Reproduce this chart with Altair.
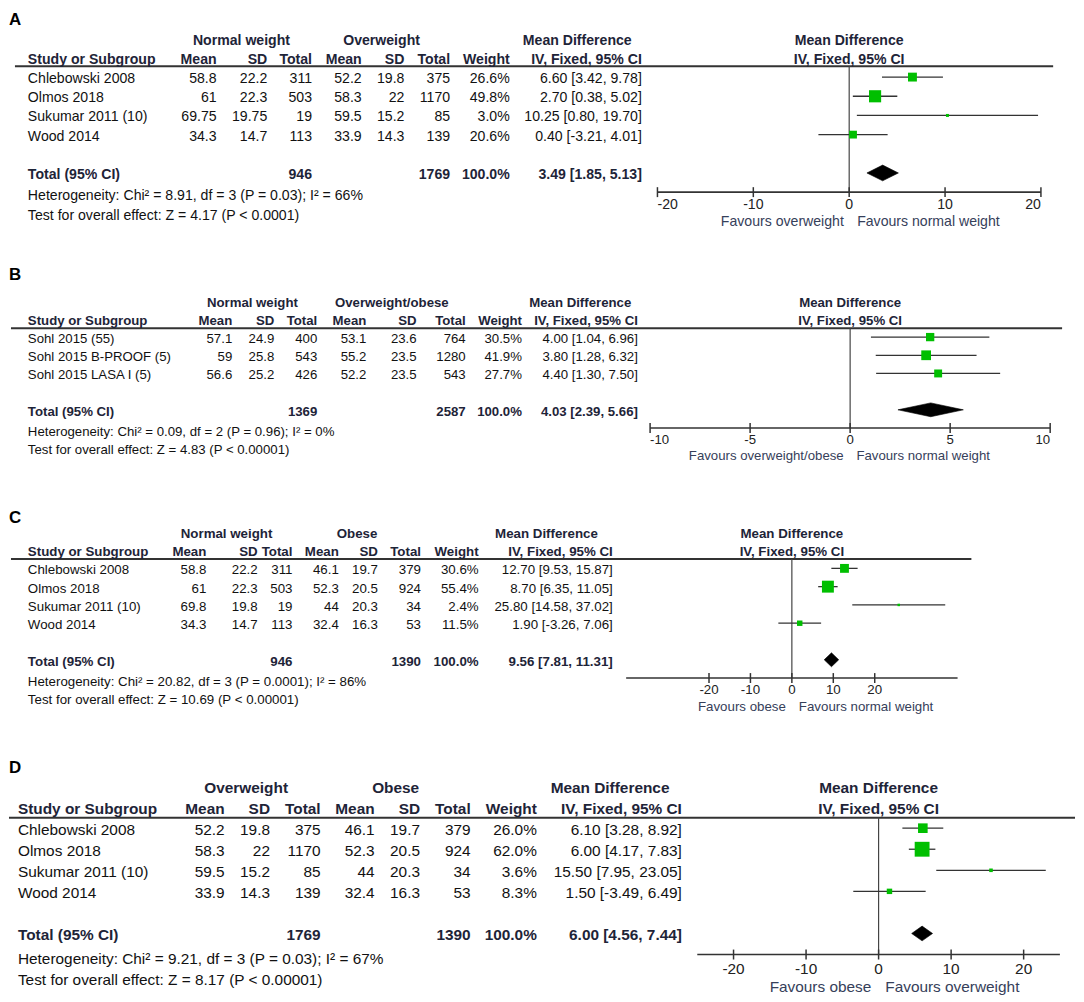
import altair as alt
import pandas as pd

FONT = "Liberation Sans"
OX = 8  # page margin (image x of chart origin)

# ---------------- data ----------------
A_study = ["Chlebowski 2008", "Olmos 2018", "Sukumar 2011 (10)", "Wood 2014"]
A_m1 = [58.8, 61, 69.75, 34.3]
A_sd1 = [22.2, 22.3, 19.75, 14.7]
A_n1 = [311, 503, 19, 113]
A_m2 = [52.2, 58.3, 59.5, 33.9]
A_sd2 = [19.8, 22, 15.2, 14.3]
A_n2 = [375, 1170, 85, 139]
A_wt = [26.6, 49.8, 3.0, 20.6]
A_md = [6.60, 2.70, 10.25, 0.40]
A_lo = [3.42, 0.38, 0.80, -3.21]
A_hi = [9.78, 5.02, 19.70, 4.01]
A_total = [946, 1769, 3.49, 1.85, 5.13]
A_het = "Heterogeneity: Chi² = 8.91, df = 3 (P = 0.03); I² = 66%"
A_test = "Test for overall effect: Z = 4.17 (P < 0.0001)"
A_groups = ["Normal weight", "Overweight"]
A_favours = ["Favours overweight", "Favours normal weight"]
A_ticks = [-20, -10, 0, 10, 20]
A_domain = [-20, 20]

B_study = ["Sohl 2015 (55)", "Sohl 2015 B-PROOF (5)", "Sohl 2015 LASA I (5)"]
B_m1 = [57.1, 59, 56.6]
B_sd1 = [24.9, 25.8, 25.2]
B_n1 = [400, 543, 426]
B_m2 = [53.1, 55.2, 52.2]
B_sd2 = [23.6, 23.5, 23.5]
B_n2 = [764, 1280, 543]
B_wt = [30.5, 41.9, 27.7]
B_md = [4.00, 3.80, 4.40]
B_lo = [1.04, 1.28, 1.30]
B_hi = [6.96, 6.32, 7.50]
B_total = [1369, 2587, 4.03, 2.39, 5.66]
B_het = "Heterogeneity: Chi² = 0.09, df = 2 (P = 0.96); I² = 0%"
B_test = "Test for overall effect: Z = 4.83 (P < 0.00001)"
B_groups = ["Normal weight", "Overweight/obese"]
B_favours = ["Favours overweight/obese", "Favours normal weight"]
B_ticks = [-10, -5, 0, 5, 10]
B_domain = [-10, 10]

C_study = ["Chlebowski 2008", "Olmos 2018", "Sukumar 2011 (10)", "Wood 2014"]
C_m1 = [58.8, 61, 69.8, 34.3]
C_sd1 = [22.2, 22.3, 19.8, 14.7]
C_n1 = [311, 503, 19, 113]
C_m2 = [46.1, 52.3, 44, 32.4]
C_sd2 = [19.7, 20.5, 20.3, 16.3]
C_n2 = [379, 924, 34, 53]
C_wt = [30.6, 55.4, 2.4, 11.5]
C_md = [12.70, 8.70, 25.80, 1.90]
C_lo = [9.53, 6.35, 14.58, -3.26]
C_hi = [15.87, 11.05, 37.02, 7.06]
C_total = [946, 1390, 9.56, 7.81, 11.31]
C_het = "Heterogeneity: Chi² = 20.82, df = 3 (P = 0.0001); I² = 86%"
C_test = "Test for overall effect: Z = 10.69 (P < 0.00001)"
C_groups = ["Normal weight", "Obese"]
C_favours = ["Favours obese", "Favours normal weight"]
C_ticks = [-20, -10, 0, 10, 20]
C_domain = [-40, 40]

D_study = ["Chlebowski 2008", "Olmos 2018", "Sukumar 2011 (10)", "Wood 2014"]
D_m1 = [52.2, 58.3, 59.5, 33.9]
D_sd1 = [19.8, 22, 15.2, 14.3]
D_n1 = [375, 1170, 85, 139]
D_m2 = [46.1, 52.3, 44, 32.4]
D_sd2 = [19.7, 20.5, 20.3, 16.3]
D_n2 = [379, 924, 34, 53]
D_wt = [26.0, 62.0, 3.6, 8.3]
D_md = [6.10, 6.00, 15.50, 1.50]
D_lo = [3.28, 4.17, 7.95, -3.49]
D_hi = [8.92, 7.83, 23.05, 6.49]
D_total = [1769, 1390, 6.00, 4.56, 7.44]
D_het = "Heterogeneity: Chi² = 9.21, df = 3 (P = 0.03); I² = 67%"
D_test = "Test for overall effect: Z = 8.17 (P < 0.00001)"
D_groups = ["Overweight", "Obese"]
D_favours = ["Favours obese", "Favours overweight"]
D_ticks = [-20, -10, 0, 10, 20]
D_domain = [-25, 25]

COL_HEADERS = ["Mean", "SD", "Total", "Mean", "SD", "Total", "Weight", "IV, Fixed, 95% CI"]
PANEL_NAMES = ["A", "B", "C", "D"]

# ---------------- layout (image pixel coords) ----------------
LAYOUT = {
    "A": dict(top=8, H=232, y0=73.3, step=19.3, fs=14.2, lab=-3.07, name_x=27,
              cols=[217, 268, 313, 363, 406, 452, 512, 645], g=[242, 383], mdc=580,
              hline=-0.57, hx=[14, 1059], xr=[660.7, 1046.7], fav=[-5.4, 8], k=3.0, dia=0.41),
    "B": dict(top=240, H=225, y0=335, step=18.3, fs=13.3, lab=-3.5, name_x=27,
              cols=[232.7, 275, 318.3, 367.7, 418.3, 467.7, 524.3, 641], g=[253, 393.3], mdc=583,
              hline=-0.49, hx=[10, 1068], xr=[653.3, 1056], fav=[-6.5, 6.3], k=2.3, dia=0.38),
    "C": dict(top=465, H=280, y0=567.8, step=18.4, fs=13.4, lab=-2.87, name_x=27,
              cols=[206.7, 258.3, 293.3, 340, 379.3, 422.7, 480.7, 615.7], g=[227, 358.3], mdc=549,
              hline=-0.51, hx=[10, 976.7], xr=[629.2, 962.8], fav=[-6, 7], k=2.6, dia=0.38),
    "D": dict(top=745, H=246, y0=829.3, step=21.2, fs=15.5, lab=-2.94, name_x=17,
              cols=[225, 270.7, 321.7, 376, 421.7, 472.7, 539.3, 685.3], g=[246.7, 397.2], mdc=613,
              hline=-0.5, hx=[8, 1081], xr=[700.8, 1065.8], fav=[-7.3, 6.7], k=3.6, dia=0.35),
}

BODY = "#111111"
BOLD = "#1e2438"
FAV = "#36405a"
LINE = "#333333"
GREEN = "#00bf00"
WIDTH = 1068


def g(v):
    return f"{v:g}"


def ci(md, lo, hi):
    return f"{md:.2f} [{lo:.2f}, {hi:.2f}]"


def panel(name):
    G = globals()
    d = {k: G[f"{name}_{k}"] for k in ["study", "m1", "sd1", "n1", "m2", "sd2", "n2", "wt",
                                          "md", "lo", "hi", "total", "het", "test", "groups",
                                          "favours", "ticks", "domain"]}
    L = LAYOUT[name]
    n = len(d["study"])
    fs = L["fs"]
    step = L["step"]
    y0 = L["y0"] - L["top"]
    ys = alt.Scale(domain=[0, 1], range=[y0, y0 + step], zero=False, nice=False)
    xs = alt.Scale(domain=d["domain"], range=[L["xr"][0] - OX, L["xr"][1] - OX],
                   zero=False, nice=False)
    dy = 2

    rows = pd.DataFrame({
        "idx": list(range(n)),
        "study": d["study"],
        "c0": [g(v) for v in d["m1"]],
        "c1": [g(v) for v in d["sd1"]],
        "c2": [str(v) for v in d["n1"]],
        "c3": [g(v) for v in d["m2"]],
        "c4": [g(v) for v in d["sd2"]],
        "c5": [str(v) for v in d["n2"]],
        "c6": [f"{w:.1f}%" for w in d["wt"]],
        "c7": [ci(a, b, c) for a, b, c in zip(d["md"], d["lo"], d["hi"])],
        "md": d["md"], "lo": d["lo"], "hi": d["hi"], "wt": d["wt"],
    })
    tn1, tn2, tmd, tlo, thi = d["total"]
    tot_texts = ["", "", str(tn1), "", "", str(tn2), "100.0%", ci(tmd, tlo, thi)]

    def Y(field="idx"):
        return alt.Y(f"{field}:Q", scale=ys, axis=None)

    def X(field):
        return alt.X(f"{field}:Q", scale=xs, axis=None)

    def text_layer(df, x, align, bold, color, size=None, field="t"):
        return alt.Chart(df).mark_text(
            align=align, baseline="middle", font=FONT, fontSize=size or fs,
            fontWeight="bold" if bold else "normal", color=color, dy=dy,
        ).encode(x=alt.value(x - OX), y=Y(), text=alt.Text(f"{field}:N"))

    one = pd.DataFrame({"k": [0]})
    layers = []

    # header rule
    layers.append(alt.Chart(one).mark_rule(color=LINE, strokeWidth=2).encode(
        x=alt.value(max(L["hx"][0] - OX, 0)), x2=alt.value(L["hx"][1] - OX),
        y=alt.YDatum(L["hline"], scale=ys, axis=None)))
    # zero line
    layers.append(alt.Chart(one).mark_rule(color="#444444", strokeWidth=1.2).encode(
        x=alt.XDatum(0, scale=xs, axis=None),
        y=alt.YDatum(L["hline"], scale=ys, axis=None), y2=alt.Y2Datum(n + 2)))
    # axis line
    layers.append(alt.Chart(one).mark_rule(color=LINE, strokeWidth=1.6).encode(
        x=alt.XDatum(d["domain"][0], scale=xs, axis=None), x2=alt.X2Datum(d["domain"][1]),
        y=alt.YDatum(n + 2, scale=ys, axis=None)))
    # axis ticks (crossing the axis line)
    tk = pd.DataFrame({"v": d["ticks"]})
    half = 5.0 / step
    layers.append(alt.Chart(tk).mark_rule(color=LINE, strokeWidth=1.5).encode(
        x=X("v"), y=alt.YDatum(n + 2 - half, scale=ys, axis=None),
        y2=alt.Y2Datum(n + 2 + half)))
    # axis labels (flush at the ends of the scale)
    lo_d, hi_d = d["domain"]
    for sel, al in [(lambda v: v == lo_d, "left"), (lambda v: lo_d < v < hi_d, "center"),
                    (lambda v: v == hi_d, "right")]:
        vals = [v for v in d["ticks"] if sel(v)]
        if not vals:
            continue
        df = pd.DataFrame({"v": vals, "t": [str(v) for v in vals]})
        layers.append(alt.Chart(df).mark_text(
            align=al, baseline="middle", font=FONT, fontSize=fs, color="#222222",
            dy=0.67 * step).encode(x=X("v"), y=alt.YDatum(n + 2, scale=ys, axis=None),
                                   text="t:N"))

    # CI whiskers
    layers.append(alt.Chart(rows).mark_rule(color=LINE, strokeWidth=1.3).encode(
        x=X("lo"), x2="hi:Q", y=Y()))
    # squares
    layers.append(alt.Chart(rows).mark_square(filled=True, color=GREEN, opacity=1).encode(
        x=X("md"), y=Y(),
        size=alt.Size("wt:Q", scale=alt.Scale(domain=[0, 100], range=[0, 100 * L["k"]]),
                      legend=None)))
    # diamond
    h = L["dia"]
    dia = pd.DataFrame({"x": [tlo, tmd, thi],
                        "ya": [n + 1, n + 1 - h, n + 1],
                        "yb": [n + 1, n + 1 + h, n + 1]})
    layers.append(alt.Chart(dia).mark_area(color="black", orient="vertical",
                                           stroke="black", strokeWidth=0.6).encode(
        x=X("x"), y=alt.Y("ya:Q", scale=ys, axis=None, stack=None), y2="yb:Q"))

    # panel letter
    layers.append(text_layer(pd.DataFrame({"idx": [L["lab"]], "t": [name]}),
                             OX, "left", True, "#000000", size=17))
    # study column
    layers.append(text_layer(rows, L["name_x"], "left", False, BODY, field="study"))
    layers.append(text_layer(pd.DataFrame({"idx": [-1, n + 1],
                                           "t": ["Study or Subgroup", "Total (95% CI)"]}),
                             L["name_x"], "left", True, BOLD))
    layers.append(text_layer(pd.DataFrame({"idx": [n + 2.1, n + 3.12],
                                           "t": [d["het"], d["test"]]}),
                             L["name_x"], "left", False, BODY))
    # numeric columns
    for j, cx in enumerate(L["cols"]):
        layers.append(text_layer(rows, cx, "right", False, BODY, field=f"c{j}"))
        layers.append(text_layer(pd.DataFrame({"idx": [-1, n + 1],
                                               "t": [COL_HEADERS[j], tot_texts[j]]}),
                                 cx, "right", True, BOLD))
    # group headers
    for gx, gt in zip(L["g"] + [L["mdc"]], d["groups"] + ["Mean Difference"]):
        layers.append(text_layer(pd.DataFrame({"idx": [-2], "t": [gt]}),
                                 gx, "center", True, BOLD))
    # forest header (centred on zero)
    layers.append(alt.Chart(pd.DataFrame({"idx": [-2, -1],
                                          "t": ["Mean Difference", "IV, Fixed, 95% CI"]}))
                  .mark_text(align="center", baseline="middle", font=FONT, fontSize=fs,
                             fontWeight="bold", color=BOLD, dy=dy)
                  .encode(x=alt.XDatum(0, scale=xs, axis=None), y=Y(), text="t:N"))
    # favours labels
    for t, off, al in zip(d["favours"], L["fav"], ["right", "left"]):
        layers.append(alt.Chart(pd.DataFrame({"idx": [n + 3.45], "t": [t]}))
                      .mark_text(align=al, baseline="middle", font=FONT, fontSize=fs,
                                 color=FAV, dx=off, dy=dy)
                      .encode(x=alt.XDatum(0, scale=xs, axis=None), y=Y(), text="t:N"))

    return alt.layer(*layers).properties(width=WIDTH, height=L["H"])


chart = alt.vconcat(*[panel(p) for p in PANEL_NAMES], spacing=0, bounds="flush").resolve_scale(
    x="independent", y="independent", size="independent"
).properties(padding=0).configure_view(stroke=None)

chart.save("out.html", embed_options={"renderer": "svg", "actions": False})
